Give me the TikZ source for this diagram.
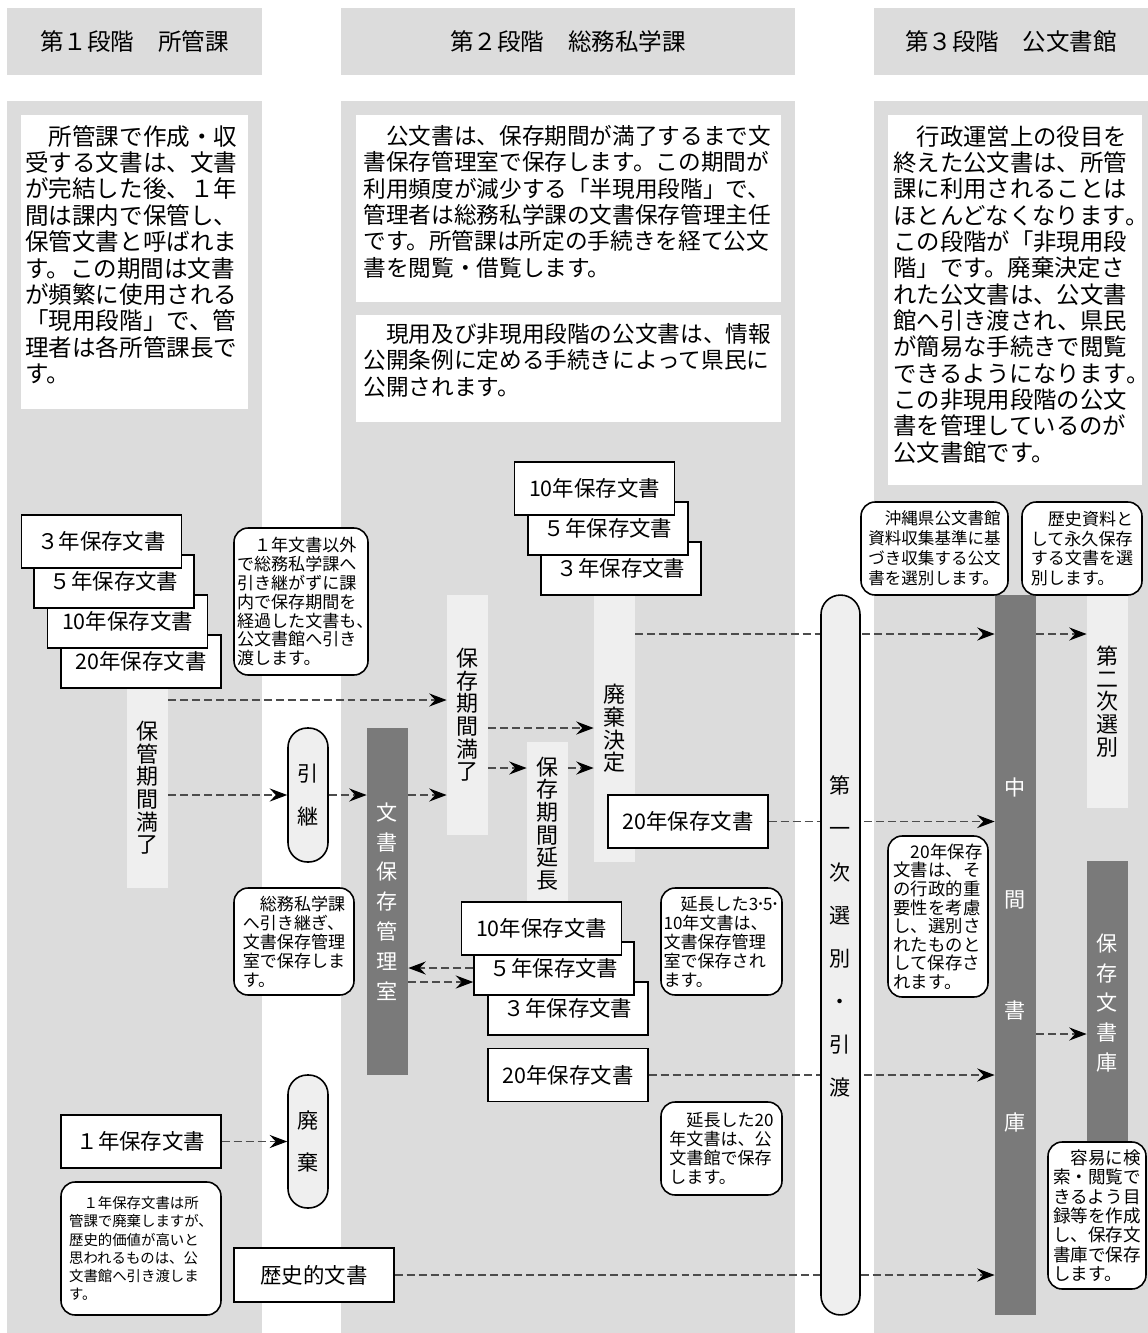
\documentclass[tikz,border=0pt]{standalone}
\usepackage{fontspec}
\setmainfont{Noto Sans CJK JP}
\usetikzlibrary{arrows.meta}
\definecolor{colgray}{HTML}{DCDCDC}
\definecolor{stripgray}{HTML}{EFEFEF}
\definecolor{bargray}{HTML}{7A7A7A}
\newcommand{\halfmark}[1]{\makebox[0.5em][l]{#1}}

\begin{document}
\begin{tikzpicture}
  [x=0.02cm,y=-0.02cm,
   headbox/.style={fill=colgray,inner sep=0pt,minimum height=1.34cm,font=\fontsize{13.4}{15}\selectfont},
   toptext/.style={anchor=north west,inner sep=0pt,align=left},
   docbox/.style={draw=black,line width=0.9pt,fill=white,inner sep=0pt,minimum width=3.2cm,minimum height=1.06cm,font=\fontsize{12.2}{14}\selectfont},
   notebox/.style={draw=black,line width=0.9pt,fill=white,rounded corners=8pt,inner sep=0pt,align=left,font=\fontsize{9.7}{10.8}\selectfont},
   stripbox/.style={fill=stripgray,inner sep=0pt,minimum width=0.82cm,align=center,font=\fontsize{12.5}{12.9}\selectfont},
   barbox/.style={fill=bargray,text=white,inner sep=0pt,minimum width=0.82cm,align=center,font=\fontsize{12}{17}\selectfont},
   pillbox/.style={draw=black,line width=0.9pt,fill=stripgray,rounded corners=11pt,inner sep=0pt,minimum width=0.8cm,align=center,font=\fontsize{12}{24.4}\selectfont},
   flow/.style={draw=black!70,line width=0.7pt,dash pattern=on 4.5pt off 2.3pt,-{Stealth[length=10pt,width=7.5pt,inset=3.5pt,color=black]}}]
  \useasboundingbox (0,0) rectangle (1148,1333);
  \fill[white] (0,0) rectangle (1148,1333);
  % columns
  \fill[colgray] (7,101) rectangle (262,1333);
  \fill[colgray] (341,101) rectangle (795,1333);
  \fill[colgray] (874,101) rectangle (1148,1333);
  \node[headbox,minimum width=5.1cm] (head1) at (134.5,41.5) {第１段階　所管課};
  \node[headbox,minimum width=9.08cm] (head2) at (568,41.5) {第２段階　総務私学課};
  \node[headbox,minimum width=5.48cm] (head3) at (1011,41.5) {第３段階　公文書館};
  % explanations
  \fill[white] (21,115) rectangle (248,409);
  \fill[white] (356,115) rectangle (781,302);
  \fill[white] (356,315) rectangle (781,422);
  \fill[white] (888,115) rectangle (1142,485);
  \node[toptext,font=\fontsize{13.4}{15}\selectfont] (txt1) at (25,125)
    {　所管課で作成・収\\受する文書は、文書\\が完結した後、１年\\間は課内で保管し、\\保管文書と呼ばれま\\す。この期間は文書\\が頻繁に使用される\\「現用段階」で、管\\理者は各所管課長で\\す。};
  \node[toptext,font=\fontsize{12.9}{15}\selectfont] (txt2) at (363,125)
    {　公文書は、保存期間が満了するまで文\\書保存管理室で保存します。この期間が\\利用頻度が減少する「半現用段階」で、\\管理者は総務私学課の文書保存管理主任\\です。所管課は所定の手続きを経て公文\\書を閲覧・借覧します。};
  \node[toptext,font=\fontsize{12.9}{15}\selectfont] (txt2b) at (363,323)
    {　現用及び非現用段階の公文書は、情報\\公開条例に定める手続きによって県民に\\公開されます。};
  \node[toptext,font=\fontsize{13.3}{15}\selectfont] (txt3) at (893,125)
    {　行政運営上の役目を\\終えた公文書は、所管\\課に利用されることは\\ほとんどなくなります\halfmark{。}\\この段階が「非現用段\\階」です。廃棄決定さ\\れた公文書は、公文書\\館へ引き渡され、県民\\が簡易な手続きで閲覧\\できるようになります\halfmark{。}\\この非現用段階の公文\\書を管理しているのが\\公文書館です。};
  % strips and bars
  \node[stripbox,minimum height=4cm] (kan) at (147.5,788) {保\\管\\期\\間\\満\\了};
  \node[stripbox,minimum height=4.8cm] (man) at (467.5,715) {保\\存\\期\\間\\満\\了};
  \node[stripbox,minimum height=5.34cm] (haik) at (614.5,728.5) {廃\\棄\\決\\定};
  \node[stripbox,minimum height=3.26cm] (encho) at (547.5,823.5) {保\\存\\期\\間\\延\\長};
  \node[stripbox,minimum height=4.26cm] (niji) at (1107.5,701.5) {第\\二\\次\\選\\別};
  \node[barbox,minimum height=6.94cm] (shitsu) at (387.5,901.5) {文\\書\\保\\存\\管\\理\\室};
  \node[barbox,minimum height=14.4cm,font=\fontsize{12}{63.5}\selectfont] (chuukan) at (1015.5,955) {中\\間\\書\\庫};
  \node[barbox,minimum height=5.68cm] (hozon) at (1107.5,1003) {保\\存\\文\\書\\庫};
  \node[pillbox,minimum height=2.68cm] (hiki) at (308,795) {引\\継};
  \node[pillbox,minimum height=2.66cm] (haiki) at (308,1141.5) {廃\\棄};
  % documents
  \node[docbox] (d20a) at (141,661.5) {20年保存文書};
  \node[docbox] (d10a) at (127.5,621.5) {10年保存文書};
  \node[docbox] (d5a) at (114,581.5) {５年保存文書};
  \node[docbox] (d3a) at (101.5,541.5) {３年保存文書};
  \node[docbox] (d3b) at (621,568.5) {３年保存文書};
  \node[docbox] (d5b) at (608,528.5) {５年保存文書};
  \node[docbox] (d10b) at (594.5,488.5) {10年保存文書};
  \node[docbox] (d20b) at (688,821.5) {20年保存文書};
  \node[docbox] (d3c) at (568,1008.5) {３年保存文書};
  \node[docbox] (d5c) at (554,968.5) {５年保存文書};
  \node[docbox] (d10c) at (541.5,928.5) {10年保存文書};
  \node[docbox] (d20c) at (568,1075) {20年保存文書};
  \node[docbox] (d1) at (141,1141.5) {１年保存文書};
  \node[docbox,minimum height=1.08cm] (rekishi) at (314,1275) {歴史的文書};
  % notes
  \node[notebox,minimum width=2.68cm,minimum height=2.94cm] (note1) at (301,601.5)
    {　１年文書以外\\で総務私学課へ\\引き継がずに課\\内で保存期間を\\経過した文書も\halfmark{、}\\公文書館へ引き\\渡します。};
  \node[notebox,minimum width=2.4cm,minimum height=2.14cm] (note2) at (294,941.5)
    {　総務私学課\\へ引き継ぎ、\\文書保存管理\\室で保存しま\\す。};
  \node[notebox,minimum width=3.2cm,minimum height=2.66cm,font=\fontsize{8.2}{10.4}\selectfont] (note3) at (141,1248.5)
    {　１年保存文書は所\\管課で廃棄しますが、\\歴史的価値が高いと\\思われるものは、公\\文書館へ引き渡しま\\す。};
  \node[notebox,minimum width=2.42cm,minimum height=2.14cm] (note4) at (721.5,941.5)
    {　延長した3\kern-1pt･\kern-1pt5\kern-1pt･\\10年文書は、\\文書保存管理\\室で保存され\\ます。};
  \node[notebox,minimum width=2.42cm,minimum height=1.86cm] (note5) at (721.5,1148.5)
    {　延長した20\\年文書は、公\\文書館で保存\\します。};
  \node[notebox,minimum width=2.94cm,minimum height=1.86cm,font=\fontsize{9.4}{11.3}\selectfont] (note6) at (934.5,548.5)
    {　沖縄県公文書館\\資料収集基準に基\\づき収集する公文\\書を選別します。};
  \node[notebox,minimum width=2.4cm,minimum height=1.86cm,font=\fontsize{9.7}{11.3}\selectfont] (note7) at (1082,548.5)
    {　歴史資料と\\して永久保存\\する文書を選\\別します。};
  \node[notebox,minimum width=2cm,minimum height=3.22cm,font=\fontsize{9.9}{10.6}\selectfont] (note8) at (938,916.5)
    {　20年保存\\文書は、そ\\の行政的重\\要性を考慮\\し、選別さ\\れたものと\\して保存さ\\れます。};
  \node[notebox,minimum width=1.96cm,minimum height=2.94cm,font=\fontsize{10}{11}\selectfont] (note9) at (1097,1215.5)
    {　容易に検\\索・閲覧で\\きるよう目\\録等を作成\\し、保存文\\書庫で保存\\します。};
  % flows
  \draw[flow] (kan.east |- 0,700) -- (man.west |- 0,700);
  \draw[flow] (kan.east |- hiki.west) -- (hiki.west);
  \draw[flow] (hiki.east) -- (shitsu.west |- hiki.east);
  \draw[flow] (shitsu.east |- hiki.east) -- (man.west |- hiki.east);
  \draw[flow] (man.east |- 0,728) -- (haik.west |- 0,728);
  \draw[flow] (man.east |- 0,768) -- (encho.west |- 0,768);
  \draw[flow] (encho.east |- 0,768) -- (haik.west |- 0,768);
  \draw[flow] (haik.east |- 0,634) -- (chuukan.west |- 0,634);
  \draw[flow] (chuukan.east |- 0,634) -- (niji.west |- 0,634);
  \draw[flow] (d20b.east) -- (chuukan.west |- d20b.east);
  \draw[flow] (d20c.east) -- (chuukan.west |- d20c.east);
  \draw[flow] (rekishi.east) -- (chuukan.west |- rekishi.east);
  \draw[flow] (chuukan.east |- 0,1034) -- (hozon.west |- 0,1034);
  \draw[flow] (d5c.west |- 0,968) -- (shitsu.east |- 0,968);
  \draw[flow] (shitsu.east |- 0,982) -- (d5c.west |- 0,982);
  \draw[flow] (d1.east) -- (haiki.west);
  % first selection
  \node[pillbox,minimum width=0.78cm,minimum height=14.4cm] (sen1) at (840.5,955) {};
  \node[inner sep=0pt,align=center,font=\fontsize{12}{24.5}\selectfont] (sen1t) at (840.5,936.5)
    {第\\一\\次\\選\\別\\・\\引\\渡};
\end{tikzpicture}
\end{document}
